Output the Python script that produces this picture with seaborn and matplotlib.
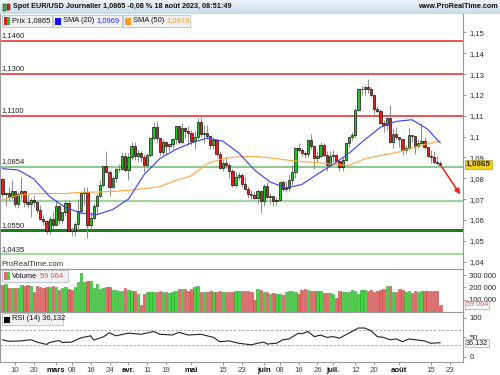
import numpy as np
import pandas as pd
import matplotlib
matplotlib.use("Agg")
import matplotlib.pyplot as plt
import matplotlib.transforms as mtrans
from matplotlib.patches import Rectangle
from matplotlib.colors import LinearSegmentedColormap
import seaborn as sns

# EUR/USD daily candles, 6 feb -> 18 aout 2023 (140 sessions)
opens = [1.0795, 1.0727, 1.0728, 1.0712, 1.0739, 1.0678, 1.0723, 1.0740, 1.0688, 1.0675,
         1.0694, 1.0686, 1.0647, 1.0605, 1.0596, 1.0547, 1.0607, 1.0576, 1.0668, 1.0599,
         1.0636, 1.0683, 1.0549, 1.0545, 1.0582, 1.0642, 1.0731, 1.0733, 1.0577, 1.0610,
         1.0669, 1.0717, 1.0770, 1.0857, 1.0830, 1.0760, 1.0800, 1.0843, 1.0845, 1.0905,
         1.0839, 1.0900, 1.0955, 1.0905, 1.0922, 1.0903, 1.0862, 1.0913, 1.0991, 1.1047,
         1.0993, 1.0926, 1.0972, 1.0957, 1.0965, 1.0990, 1.1049, 1.0973, 1.1043, 1.1028,
         1.1018, 1.0978, 1.0996, 1.1070, 1.1013, 1.1018, 1.1005, 1.0960, 1.0982, 1.0916,
         1.0850, 1.0872, 1.0863, 1.0837, 1.0768, 1.0804, 1.0814, 1.0773, 1.0751, 1.0724,
         1.0722, 1.0705, 1.0737, 1.0689, 1.0761, 1.0710, 1.0713, 1.0693, 1.0698, 1.0781,
         1.0749, 1.0752, 1.0790, 1.0830, 1.0946, 1.0937, 1.0922, 1.0917, 1.0982, 1.0955,
         1.0895, 1.0905, 1.0960, 1.0911, 1.0866, 1.0909, 1.0912, 1.0882, 1.0853, 1.0889,
         1.0967, 1.0999, 1.1008, 1.1129, 1.1227, 1.1230, 1.1238, 1.1227, 1.1200, 1.1130,
         1.1125, 1.1064, 1.1055, 1.1087, 1.0975, 1.1014, 1.0997, 1.0987, 1.0937, 1.0947,
         1.1008, 1.1004, 1.0955, 1.0970, 1.0980, 1.0948, 1.0905, 1.0904, 1.0876, 1.0872]
highs = [1.0802, 1.0736, 1.0760, 1.0790, 1.0740, 1.0733, 1.0805, 1.0740, 1.0720, 1.0705,
         1.0720, 1.0690, 1.0670, 1.0625, 1.0600, 1.0620, 1.0645, 1.0692, 1.0670, 1.0640,
         1.0695, 1.0694, 1.0568, 1.0590, 1.0700, 1.0735, 1.0760, 1.0760, 1.0637, 1.0680,
         1.0730, 1.0790, 1.0860, 1.0930, 1.0840, 1.0810, 1.0850, 1.0870, 1.0925, 1.0928,
         1.0920, 1.0972, 1.0973, 1.0942, 1.0930, 1.0915, 1.0920, 1.0998, 1.1068, 1.1075,
         1.0994, 1.0990, 1.0980, 1.0970, 1.0995, 1.1050, 1.1052, 1.1065, 1.1048, 1.1050,
         1.1030, 1.1030, 1.1090, 1.1092, 1.1055, 1.1055, 1.1010, 1.1000, 1.0990, 1.0930,
         1.0890, 1.0904, 1.0875, 1.0845, 1.0830, 1.0830, 1.0825, 1.0805, 1.0765, 1.0745,
         1.0740, 1.0750, 1.0742, 1.0775, 1.0780, 1.0730, 1.0715, 1.0710, 1.0785, 1.0790,
         1.0785, 1.0820, 1.0865, 1.0950, 1.0970, 1.0945, 1.0933, 1.0990, 1.1012, 1.0960,
         1.0930, 1.0975, 1.0970, 1.0930, 1.0930, 1.0935, 1.0915, 1.0890, 1.0900, 1.0975,
         1.1005, 1.1020, 1.1135, 1.1235, 1.1245, 1.1245, 1.1276, 1.1240, 1.1205, 1.1145,
         1.1130, 1.1080, 1.1090, 1.1150, 1.1040, 1.1045, 1.1000, 1.0990, 1.0960, 1.1040,
         1.1010, 1.1005, 1.0990, 1.1065, 1.1000, 1.0950, 1.0935, 1.0930, 1.0905, 1.0885]
lows = [1.0710, 1.0669, 1.0695, 1.0700, 1.0660, 1.0657, 1.0700, 1.0660, 1.0657, 1.0613,
        1.0660, 1.0633, 1.0600, 1.0577, 1.0535, 1.0533, 1.0560, 1.0575, 1.0580, 1.0586,
        1.0618, 1.0548, 1.0525, 1.0525, 1.0550, 1.0630, 1.0670, 1.0516, 1.0550, 1.0600,
        1.0630, 1.0710, 1.0760, 1.0830, 1.0713, 1.0755, 1.0780, 1.0830, 1.0840, 1.0830,
        1.0790, 1.0890, 1.0890, 1.0880, 1.0880, 1.0830, 1.0850, 1.0900, 1.0985, 1.0970,
        1.0910, 1.0910, 1.0910, 1.0930, 1.0940, 1.0965, 1.0965, 1.0965, 1.0995, 1.0960,
        1.0960, 1.0940, 1.0990, 1.1000, 1.0970, 1.0990, 1.0940, 1.0940, 1.0900, 1.0845,
        1.0835, 1.0850, 1.0800, 1.0760, 1.0760, 1.0790, 1.0760, 1.0745, 1.0705, 1.0700,
        1.0700, 1.0675, 1.0635, 1.0665, 1.0705, 1.0675, 1.0665, 1.0670, 1.0690, 1.0740,
        1.0735, 1.0740, 1.0770, 1.0800, 1.0925, 1.0905, 1.0895, 1.0900, 1.0940, 1.0845,
        1.0880, 1.0900, 1.0900, 1.0835, 1.0860, 1.0880, 1.0875, 1.0835, 1.0833, 1.0885,
        1.0950, 1.0985, 1.0995, 1.1125, 1.1200, 1.1200, 1.1210, 1.1190, 1.1110, 1.1115,
        1.1060, 1.1020, 1.1030, 1.0970, 1.0945, 1.0990, 1.0950, 1.0913, 1.0915, 1.0940,
        1.0975, 1.0915, 1.0945, 1.0965, 1.0940, 1.0900, 1.0875, 1.0870, 1.0865, 1.0860]
closes = [1.0727, 1.0728, 1.0712, 1.0739, 1.0678, 1.0723, 1.0740, 1.0688, 1.0675, 1.0694,
          1.0686, 1.0647, 1.0605, 1.0596, 1.0547, 1.0607, 1.0576, 1.0668, 1.0599, 1.0636,
          1.0683, 1.0549, 1.0545, 1.0582, 1.0642, 1.0731, 1.0733, 1.0577, 1.0610, 1.0669,
          1.0717, 1.0770, 1.0857, 1.0830, 1.0760, 1.0800, 1.0843, 1.0845, 1.0905, 1.0839,
          1.0900, 1.0955, 1.0905, 1.0922, 1.0903, 1.0862, 1.0913, 1.0991, 1.1047, 1.0993,
          1.0926, 1.0972, 1.0957, 1.0965, 1.0990, 1.1049, 1.0973, 1.1043, 1.1028, 1.1018,
          1.0978, 1.0996, 1.1070, 1.1013, 1.1018, 1.1005, 1.0960, 1.0982, 1.0916, 1.0850,
          1.0872, 1.0863, 1.0837, 1.0768, 1.0804, 1.0814, 1.0773, 1.0751, 1.0724, 1.0722,
          1.0705, 1.0737, 1.0689, 1.0761, 1.0710, 1.0713, 1.0693, 1.0698, 1.0781, 1.0749,
          1.0752, 1.0790, 1.0830, 1.0946, 1.0937, 1.0922, 1.0917, 1.0982, 1.0955, 1.0895,
          1.0905, 1.0960, 1.0911, 1.0866, 1.0909, 1.0912, 1.0882, 1.0853, 1.0889, 1.0967,
          1.0999, 1.1008, 1.1129, 1.1227, 1.1230, 1.1238, 1.1227, 1.1200, 1.1130, 1.1125,
          1.1064, 1.1055, 1.1087, 1.0975, 1.1014, 1.0997, 1.0987, 1.0937, 1.0947, 1.1008,
          1.1004, 1.0955, 1.0970, 1.0980, 1.0948, 1.0905, 1.0904, 1.0876, 1.0872, 1.0865]

# volume in thousands
volumes_k = [217, 228, 195, 195, 195, 195, 222, 214, 217, 208,
             161, 208, 200, 195, 203, 203, 214, 203, 183, 195,
             203, 189, 183, 200, 245, 314, 245, 256, 256, 195,
             228, 186, 195, 203, 203, 181, 181, 175, 172, 195,
             181, 172, 172, 145, 61, 145, 161, 161, 161, 161,
             172, 161, 161, 156, 161, 172, 189, 189, 189, 172,
             189, 203, 208, 161, 161, 161, 172, 161, 161, 172,
             161, 161, 161, 161, 172, 172, 175, 175, 175, 161,
             97, 189, 181, 161, 161, 150, 153, 150, 147, 139,
             161, 172, 167, 161, 145, 181, 189, 178, 167, 172,
             172, 172, 158, 153, 158, 150, 111, 172, 161, 161,
             161, 178, 172, 145, 181, 181, 172, 181, 161, 167,
             181, 186, 208, 208, 161, 161, 189, 183, 161, 172,
             153, 172, 161, 175, 175, 175, 172, 170, 172, 59.064]

# moving averages read every 5 sessions
sma_idx = [0, 5, 10, 15, 20, 25, 30, 35, 40, 45, 50, 55, 60, 65, 70,
           75, 80, 85, 90, 95, 100, 105, 110, 115, 120, 125, 130, 135, 139]
sma20 = [1.0846, 1.0840, 1.0797, 1.0712, 1.0660, 1.0633, 1.0626, 1.0650, 1.0700, 1.0818,
         1.0895, 1.0938, 1.0970, 1.0993, 1.0978, 1.0922, 1.0840, 1.0782, 1.0754, 1.0770,
         1.0820, 1.0867, 1.0920, 1.0985, 1.1045, 1.1073, 1.1081, 1.1035, 1.0969]
sma50 = [1.0697, 1.0719, 1.0727, 1.0727, 1.0727, 1.0733, 1.0734, 1.0737, 1.0742, 1.0750,
         1.0760, 1.0790, 1.0812, 1.0870, 1.0895, 1.0903, 1.0905, 1.0898, 1.0888, 1.0880,
         1.0876, 1.0866, 1.0862, 1.0893, 1.0909, 1.0923, 1.0945, 1.0966, 1.0979]

rsi_idx = [0, 2, 6, 9, 11, 14, 15, 18, 19, 22, 25, 28, 29, 32, 34, 36, 40, 44, 48, 50,
           54, 56, 59, 63, 67, 69, 72, 75, 79, 81, 83, 84, 87, 89, 91, 94, 95, 97, 99, 101,
           103, 105, 107, 110, 113, 115, 117, 119, 121, 123, 125, 127, 129, 132, 134, 136, 138, 139]
rsi_vals = [44, 40, 41, 44, 38, 32, 37, 42, 37, 38, 49, 54, 43, 51, 62, 54, 61, 58, 65, 58,
            56, 63, 56, 58, 50, 39, 41, 35, 31, 35, 38, 33, 35, 44, 46, 61, 59, 65, 52, 56,
            50, 52, 48, 61, 74, 74, 67, 52, 50, 44, 46, 39, 46, 43, 41, 35, 36, 36.132]

# support / resistance levels drawn on the chart
levels = [1.1460, 1.1300, 1.1100, 1.0854, 1.0690, 1.0550, 1.0435]
level_labels = ["1,1460", "1,1300", "1,1100", "1,0854", "", "1,0550", "1,0435"]
level_colors = ["#e8242a", "#e8242a", "#e8242a", "#6cba6c", "#a3d3a3", "#1c7d1c", "#a8d6a8"]
level_widths = [1.1, 1.1, 1.1, 1.1, 1.6, 2.2, 1.6]
arrow_target = 1.0712

tick_idx = [4, 10, 17, 22, 28, 34, 40, 46, 52, 60, 70, 76, 83, 88, 94, 100, 105, 112, 118, 126, 136, 142]
tick_labels = ["10", "20", "mars", "08", "16", "24", "avr.", "11", "19", "mai", "15", "23",
               "juin", "08", "16", "26", "juil.", "12", "20", "août", "15", "23"]
month_names = ["mars", "avr.", "mai", "juin", "juil.", "août"]

sns.set_theme(style="white")
plt.rcParams['font.family'] = ['Liberation Sans', 'DejaVu Sans']

W, H = 500, 375
fig = plt.figure(figsize=(5, 3.75), dpi=100)
fig.patch.set_facecolor("white")


def frect(x0, y0, x1, y1):
    return [x0 / W, 1 - y1 / H, (x1 - x0) / W, (y1 - y0) / H]


def fbox(x0, y0, x1, y1, fc="#f0f1f3", ec="#b9bfc7"):
    fig.patches.append(Rectangle((x0 / W, 1 - y1 / H), (x1 - x0) / W, (y1 - y0) / H,
                                 transform=fig.transFigure, fc=fc, ec=ec, lw=0.6, zorder=20))


def ftext(x, y, s, **kw):
    fig.text(x / W, 1 - y / H, s, va="center", zorder=21, **kw)


ax_p = fig.add_axes(frect(0, 14, 463, 269))
ax_v = fig.add_axes(frect(0, 269, 463, 312), sharex=ax_p)
ax_r = fig.add_axes(frect(0, 312, 463, 362), sharex=ax_p)

df = pd.DataFrame({"open": opens, "high": highs, "low": lows, "close": closes,
                   "vol": np.array(volumes_k) * 1000})
df["i"] = np.arange(len(df))
up = (df.close >= df.open).values

# level lines + labels
for lvl, lab, col, lw in zip(levels, level_labels, level_colors, level_widths):
    ax_p.axhline(lvl, color=col, lw=lw, zorder=1)
    if lab:
        ax_p.annotate(lab, xy=(0.004, lvl), xycoords=("axes fraction", "data"),
                      xytext=(0, 1.2), textcoords="offset points", va="bottom",
                      fontsize=5.5, color="#222222", zorder=2)

# candles
ax_p.vlines(df.i, df.low, df.high, color="#8c8c8c", lw=0.7, zorder=3)
body = (df.close - df.open).abs().clip(lower=0.00015)
ax_p.bar(df.i, body, bottom=np.minimum(df.open, df.close), width=0.72,
         color=np.where(up, "#27c227", "#e61e1e"), edgecolor="black", linewidth=0.45, zorder=4)

# moving averages
sns.lineplot(x=sma_idx, y=sma50, ax=ax_p, color="#ffa640", lw=0.8, zorder=5)
sns.lineplot(x=sma_idx, y=sma20, ax=ax_p, color="#3c3cf0", lw=0.8, zorder=6)

# projection arrow
ax_p.annotate("", xy=(145.8, arrow_target), xytext=(df.i.iloc[-1], closes[-1]),
              arrowprops=dict(arrowstyle="-|>", color="#e8231b", lw=1.1, mutation_scale=8),
              annotation_clip=False, zorder=7)

ax_p.text(0.004, 0.004, "ProRealTime.com", transform=ax_p.transAxes, fontsize=5.6,
          color="#333333", va="bottom")

ax_p.set_xlim(-0.76, 146.2)
ax_p.set_ylim(1.0365, 1.1588)
pticks = np.round(np.arange(1.04, 1.1501, 0.01), 2)
ax_p.set_yticks(pticks)
ax_p.set_yticklabels([("%g" % t).replace(".", ",") for t in pticks])
bold_ticks = [1.15, 1.13, 1.11, 1.10, 1.07, 1.05]
for t, lab in zip(pticks, ax_p.get_yticklabels()):
    if t in bold_ticks:
        lab.set_fontweight("bold")
        lab.set_color("#111111")
    else:
        lab.set_color("#555555")

# volume
ax_v.bar(df.i, df.vol, width=0.78, color=np.where(up, "#45d545", "#e46a6a"),
         edgecolor=np.where(up, "#22a022", "#c04545"), linewidth=0.4)
ax_v.set_ylim(0, 350000)
ax_v.set_yticks([100000, 200000, 300000])
ax_v.set_yticklabels(["100 000", "200 000", "300 000"])

# RSI
ax_r.axhline(70, color="#9a9a9a", lw=0.6, ls=(0, (3, 2)))
ax_r.axhline(30, color="#9a9a9a", lw=0.6, ls=(0, (3, 2)))
sns.lineplot(x=rsi_idx, y=rsi_vals, ax=ax_r, color="#222222", lw=0.8)
ax_r.set_ylim(-13, 115)
ax_r.set_yticks([0, 50, 100])
ax_r.set_yticklabels(["0", "50", "100"])
for lab in ax_r.get_yticklabels():
    lab.set_fontweight("bold")

ax_r.set_xticks(tick_idx)
ax_r.set_xticklabels(tick_labels)
for lab in ax_r.get_xticklabels():
    if lab.get_text() in month_names:
        lab.set_fontweight("bold")
        lab.set_color("#111111")
    else:
        lab.set_color("#444444")

for ax in (ax_p, ax_v, ax_r):
    ax.set_facecolor("white")
    ax.yaxis.tick_right()
    ax.tick_params(axis="y", right=True, left=False, labelright=True, labelleft=False,
                   length=2.5, width=0.6, color="#888888", pad=2, labelsize=5.5)
    ax.tick_params(axis="x", bottom=(ax is ax_r), labelbottom=(ax is ax_r),
                   length=2, width=0.6, color="#888888", pad=1.5, labelsize=5.6)
    for side, sp in ax.spines.items():
        sp.set_color("#9a9a9a")
        sp.set_linewidth(0.8)
    ax.spines["top"].set_visible(ax is not ax_p)
    ax.set_xlabel("")
    ax.set_ylabel("")

# value boxes on the right scale
tp = mtrans.blended_transform_factory(ax_p.transAxes, ax_p.transData)
ax_p.text(1.006, closes[-1], ("%.4f" % closes[-1]).replace(".", ","), transform=tp,
          fontsize=5.9, weight="bold", va="center", ha="left", clip_on=False, zorder=10,
          bbox=dict(boxstyle="square,pad=0.12", fc="#f7d21c", ec="#b09a3a", lw=0.5))
tv = mtrans.blended_transform_factory(ax_v.transAxes, ax_v.transData)
vol_last = "{:,}".format(int(round(df.vol.iloc[-1]))).replace(",", " ")
ax_v.text(1.006, df.vol.iloc[-1], vol_last, transform=tv, fontsize=5.2, color="#e05050",
          va="center", ha="left", clip_on=False, zorder=10,
          bbox=dict(boxstyle="square,pad=0.1", fc="white", ec="#9aa4ae", lw=0.5))
tr = mtrans.blended_transform_factory(ax_r.transAxes, ax_r.transData)
rsi_last = ("%.3f" % rsi_vals[-1]).replace(".", ",")
ax_r.text(1.006, rsi_vals[-1], rsi_last, transform=tr, fontsize=5.2, color="#111111",
          va="center", ha="left", clip_on=False, zorder=10,
          bbox=dict(boxstyle="square,pad=0.1", fc="white", ec="#9aa4ae", lw=0.5))

# title bar
ax_t = fig.add_axes(frect(0, 0, 500, 14))
grad = LinearSegmentedColormap.from_list("bar", ["#c9dce9", "#edf4f9"])
ax_t.imshow(np.linspace(0, 1, 30).reshape(-1, 1), aspect="auto", cmap=grad,
            extent=[0, 1, 0, 1], origin="lower")
ax_t.axhline(0.02, color="#9fb3c2", lw=0.8)
ax_t.set_axis_off()
fig.patches.append(Rectangle((3 / W, 1 - 11 / H), 3 / W, 7 / H, transform=fig.transFigure,
                             fc="#2fbf2f", ec="black", lw=0.3, zorder=22))
fig.patches.append(Rectangle((7 / W, 1 - 10 / H), 3 / W, 6 / H, transform=fig.transFigure,
                             fc="#e02020", ec="black", lw=0.3, zorder=22))
ftext(13, 7, "Spot EUR/USD Journalier 1,0865 -0,08 % 18 août 2023, 08:51:49",
      fontsize=5.2, weight="bold", color="#111111")
ftext(498, 7, "www.ProRealTime.com", fontsize=5.2, weight="bold", color="#111111", ha="right")

# legend boxes
fbox(2, 15, 52, 27)
fig.patches.append(Rectangle((4 / W, 1 - 25 / H), 3 / W, 8 / H, transform=fig.transFigure,
                             fc="#e02020", ec="none", zorder=22))
fig.patches.append(Rectangle((7 / W, 1 - 25 / H), 3 / W, 8 / H, transform=fig.transFigure,
                             fc="#2fbf2f", ec="none", zorder=22))
ftext(12, 21, "Prix 1,0865", fontsize=5.4, color="#111111")
fbox(53, 15, 122, 27)
fig.patches.append(Rectangle((55 / W, 1 - 24.5 / H), 6 / W, 6 / H, transform=fig.transFigure,
                             fc="#1010ff", ec="none", zorder=22))
ftext(63, 21, "SMA (20)", fontsize=5.4, color="#111111")
ftext(96, 21, "1,0969", fontsize=5.4, color="#2a2aff")
fbox(123, 15, 190, 27)
fig.patches.append(Rectangle((125 / W, 1 - 24.5 / H), 6 / W, 6 / H, transform=fig.transFigure,
                             fc="#ff9a20", ec="none", zorder=22))
ftext(133, 21, "SMA (50)", fontsize=5.4, color="#111111")
ftext(166, 21, "1,0979", fontsize=5.4, color="#ff9a20")

fbox(2, 270, 68, 282)
fig.patches.append(Rectangle((4 / W, 1 - 280 / H), 3 / W, 8 / H, transform=fig.transFigure,
                             fc="#e46a6a", ec="none", zorder=22))
fig.patches.append(Rectangle((7 / W, 1 - 280 / H), 3 / W, 8 / H, transform=fig.transFigure,
                             fc="#45d545", ec="none", zorder=22))
ftext(12, 276, "Volume", fontsize=5.4, color="#111111")
ftext(40, 276, vol_last, fontsize=5.4, color="#e05050")

fbox(2, 313, 63, 325)
fig.patches.append(Rectangle((4 / W, 1 - 322.5 / H), 6 / W, 6 / H, transform=fig.transFigure,
                             fc="black", ec="none", zorder=22))
ftext(12, 319, "RSI (14) " + rsi_last, fontsize=5.4, color="#111111")

fig.savefig("out.png", dpi=100, facecolor="white")
